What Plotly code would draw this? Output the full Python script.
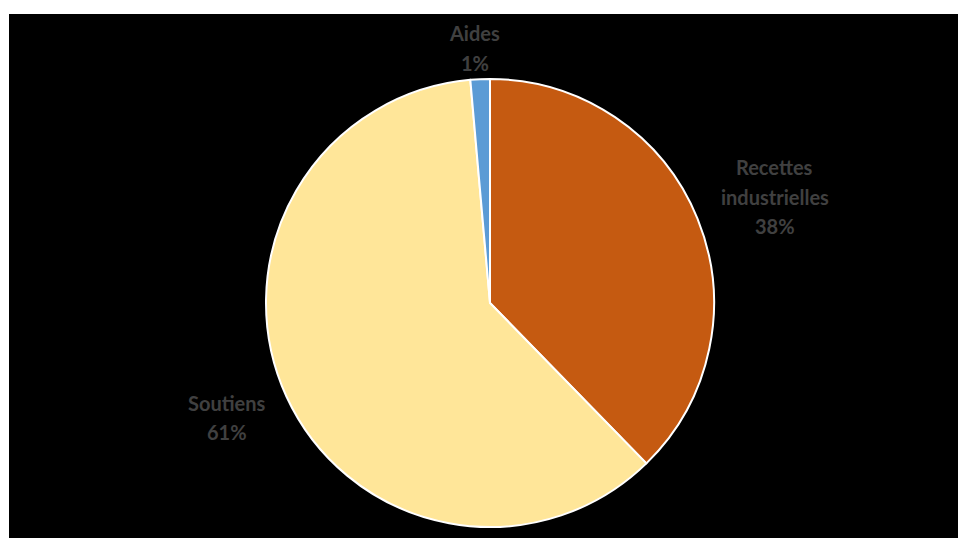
import math
import plotly.graph_objects as go

labels = ["Recettes industrielles", "Soutiens", "Aides"]
label_lines = [["Recettes", "industrielles"], ["Soutiens"], ["Aides"]]
values = [37.7, 60.9, 1.4]
pct_text = ["38%", "61%", "1%"]
colors = ["#C55A11", "#FFE699", "#5B9BD5"]

W, H = 958, 538
cx, cy, R = 490, 303, 224
label_factor = [1.357, 1.28, 1.14]
label_angle_shift = [1.7, 1.1, -0.9]  # degrees
line_gap = 29.5

fig = go.Figure()
fig.add_trace(go.Pie(
    labels=labels,
    values=values,
    sort=False,
    direction="clockwise",
    rotation=0,
    marker=dict(colors=colors, line=dict(color="white", width=2)),
    textinfo="none",
    hoverinfo="label+percent",
    showlegend=False,
    domain=dict(x=[(cx - R) / W, (cx + R) / W], y=[1 - (cy + R) / H, 1 - (cy - R) / H]),
))

total = sum(values)
cum = 0.0
for i, v in enumerate(values):
    mid = (cum + v / 2) / total * 2 * math.pi + math.radians(label_angle_shift[i])
    cum += v
    r = R * label_factor[i]
    px = cx + r * math.sin(mid)
    py = cy - r * math.cos(mid)
    lines = label_lines[i] + [pct_text[i]]
    n = len(lines)
    for k, line in enumerate(lines):
        ly = py + (k - (n - 1) / 2) * line_gap
        fig.add_annotation(
            x=px / W, y=1 - ly / H, xref="paper", yref="paper",
            text=f"<b>{line}</b>",
            showarrow=False, xanchor="center", yanchor="middle",
            font=dict(family="Lato, sans-serif", size=20, color="#404040"),
            align="center",
        )

fig.add_shape(type="rect", xref="paper", yref="paper",
              x0=9 / W, x1=1, y0=0, y1=1 - 14 / H,
              fillcolor="black", line=dict(width=0), layer="below")

fig.update_layout(
    width=W, height=H,
    margin=dict(l=0, r=0, t=0, b=0),
    paper_bgcolor="white",
    plot_bgcolor="white",
)

fig.write_html("out.html", config={"displayModeBar": False},
               post_script="document.body.style.margin='0';")
